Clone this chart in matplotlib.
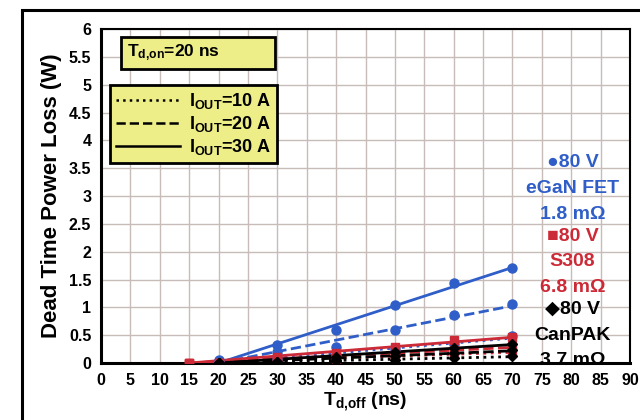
import matplotlib.pyplot as plt
import numpy as np
from matplotlib.lines import Line2D
from matplotlib.patches import Rectangle

plt.rcParams["font.family"] = ["Liberation Sans", "DejaVu Sans"]
plt.rcParams["font.weight"] = "bold"
plt.rcParams["axes.labelweight"] = "bold"
plt.rcParams["mathtext.fontset"] = "custom"
plt.rcParams["mathtext.rm"] = "Liberation Sans:bold"
plt.rcParams["mathtext.bf"] = "Liberation Sans:bold"
plt.rcParams["mathtext.default"] = "bf"

# dead time (ns) where losses were measured
td_off = [20, 30, 40, 50, 60, 70]
td_off_s308 = [15, 20, 30, 40, 50, 60, 70]

# power loss (W), one list per output current
egan_10a = [0.0, 0.08, 0.15, 0.25, 0.35, 0.48]
egan_20a = [0.02, 0.2, 0.28, 0.6, 0.86, 1.06]
egan_30a = [0.05, 0.33, 0.6, 1.04, 1.43, 1.7]

s308_10a = [0.0, 0.0, 0.04, 0.08, 0.12, 0.16, 0.2]
s308_20a = [0.0, 0.0, 0.06, 0.11, 0.17, 0.23, 0.3]
s308_30a = [0.0, 0.0, 0.1, 0.18, 0.28, 0.41, 0.47]

canpak_10a = [0.0, 0.0, 0.03, 0.06, 0.09, 0.13]
canpak_20a = [0.0, 0.01, 0.06, 0.12, 0.18, 0.24]
canpak_30a = [0.0, 0.02, 0.1, 0.2, 0.27, 0.35]

currents = ["10 A", "20 A", "30 A"]
styles = [":", "--", "-"]

blue = "#2f5ec8"
red = "#cc2a36"

devices = [
    (td_off, [egan_10a, egan_20a, egan_30a], blue, "o", 6.5),
    (td_off_s308, [s308_10a, s308_20a, s308_30a], red, "s", 6),
    (td_off, [canpak_10a, canpak_20a, canpak_30a], "black", "D", 5.5),
]


def trend(x, y):
    # straight trend line held at zero where the dead time starts
    x = np.array(x, float)
    y = np.array(y, float)
    dx = x - x[0]
    k = (dx * y).sum() / (dx * dx).sum()
    xs = np.array([x[0], x[-1]])
    return xs, k * (xs - x[0])


fig = plt.figure(figsize=(6.4, 4.2), dpi=100)
ax = fig.add_axes([101 / 640, 1 - 363 / 420, 529 / 640, 334 / 420])

for x, series, col, mk, ms in devices:
    for y, ls in zip(series, styles):
        xs, ys = trend(x, y)
        ax.plot(xs, ys, ls=ls, color=col, lw=2, zorder=3)
        ax.plot(x, y, ls="None", marker=mk, color=col, markersize=ms, zorder=4)

ax.set_xlim(0, 90)
ax.set_ylim(0, 6)
ax.set_xticks(np.arange(0, 91, 5))
ax.set_yticks(np.arange(0, 6.01, 0.5))
ax.set_yticklabels([f"{v:g}" for v in np.arange(0, 6.01, 0.5)])
ax.tick_params(length=0, labelsize=11.5, pad=7)
for lab in ax.get_xticklabels() + ax.get_yticklabels():
    lab.set_fontweight("bold")
ax.grid(True, color="#c8bcb8", lw=1)
ax.set_axisbelow(True)
for s in ax.spines.values():
    s.set_linewidth(1.5)
ax.spines["left"].set_linewidth(2.2)
ax.spines["bottom"].set_linewidth(2.2)

ax.set_ylabel("Dead Time Power Loss (W)", fontsize=16, labelpad=5)
ax.set_xlabel(r"T$_{d{,}off}$ (ns)", fontsize=14, labelpad=2)

ax.text(0.05, 0.928, r"T$_{d{,}on}$=20 ns           ", transform=ax.transAxes,
        fontsize=12.5, va="center", ha="left",
        bbox=dict(boxstyle="square,pad=0.35", fc="#eeee88", ec="black", lw=2))

handles = [Line2D([], [], color="black", ls=ls, lw=1.8) for ls in styles]
leg = ax.legend(handles, [r"I$_{OUT}$=" + c for c in currents],
                loc="upper left", bbox_to_anchor=(0.017, 0.832),
                borderaxespad=0, handlelength=3.5, handletextpad=0.5,
                labelspacing=0.15, fontsize=13, fancybox=False,
                framealpha=1, borderpad=0.35)
leg.get_frame().set_facecolor("#eeee88")
leg.get_frame().set_edgecolor("black")
leg.get_frame().set_linewidth(2)

notes = [
    ("\u25cf80 V", 3.6, blue), ("eGaN FET", 3.13, blue), ("1.8 m\u03a9", 2.67, blue),
    ("\u25a080 V", 2.27, red), ("S308", 1.82, red), ("6.8 m\u03a9", 1.36, red),
    ("\u25c680 V", 0.97, "black"), ("CanPAK", 0.5, "black"), ("3.7 m\u03a9", 0.05, "black"),
]
for txt, yv, col in notes:
    ax.text(80.2, yv, txt, color=col, fontsize=14, ha="center", va="center",
            zorder=5)

fig.patches.append(Rectangle((22 / 640, -0.1), 1.2, 1 - 10 / 420 + 0.1,
                             transform=fig.transFigure, fill=False,
                             ec="black", lw=2.2))

fig.savefig("out.png", dpi=100)
